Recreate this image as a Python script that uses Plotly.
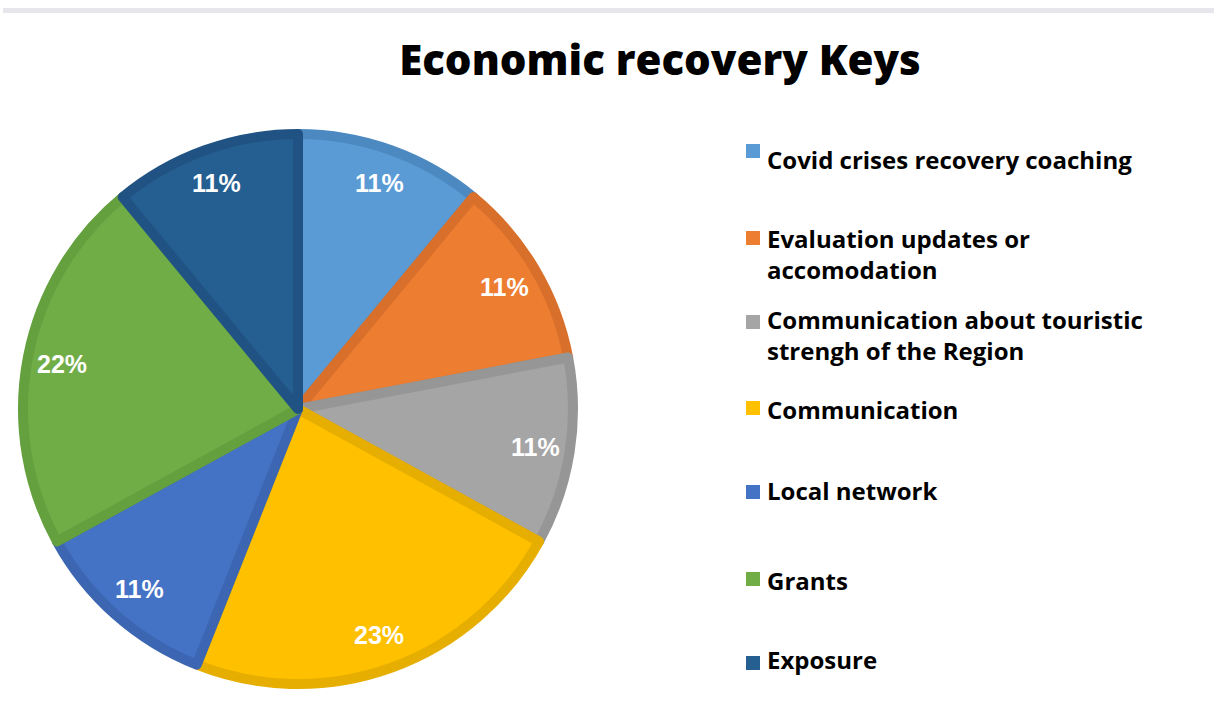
import math
import plotly.graph_objects as go

# ---- data ----
categories = [
    "Covid crises recovery coaching",
    "Evaluation updates or<br>accomodation",
    "Communication about touristic<br>strengh of the Region",
    "Communication",
    "Local network",
    "Grants",
    "Exposure",
]
values = [11, 11, 11, 23, 11, 22, 11]
title_text = "Economic recovery Keys"

# ---- styles ----
fill_colors = ["#5B9BD5", "#ED7D31", "#A5A5A5", "#FFC000", "#4472C4", "#70AD47", "#255E91"]
edge_colors = ["#4C89C0", "#D8702B", "#969696", "#E6AE00", "#3C66B1", "#65A03F", "#205384"]

W, H = 1214, 718
cx, cy_top = 298, 409          # pie centre in px (from top-left)
R_outer = 280
LINE_W = 10
R = R_outer - LINE_W / 2
cy = H - cy_top                # centre from bottom

fig = go.Figure()
fig.add_trace(go.Pie(
    labels=categories,
    values=values,
    sort=False,
    direction="clockwise",
    rotation=0,
    textinfo="none",
    hoverinfo="label+percent",
    showlegend=False,
    marker=dict(colors=fill_colors, line=dict(color=edge_colors, width=LINE_W)),
    domain=dict(x=[(cx - R) / W, (cx + R) / W], y=[(cy - R) / H, (cy + R) / H]),
))

annotations = []
shapes = []

# percentage labels placed near outer edge (Excel "inside end" style)
total = sum(values)
cum = 0
r_lab = 240
for v in values:
    mid = (cum + v / 2) / total * 2 * math.pi
    cum += v
    px = cx + r_lab * math.sin(mid)
    py = cy + r_lab * math.cos(mid)
    annotations.append(dict(
        x=px / W, y=py / H, xref="paper", yref="paper",
        text=f"{round(v / total * 100)}%", showarrow=False,
        xanchor="center", yanchor="middle",
        font=dict(family="Liberation Sans", size=25, color="white", weight="bold"),
    ))

# manual legend
leg_text_x = 765
leg_baselines = [167, 246, 327, 417, 498, 588, 667]
leg_square_cy = [151, 238, 322, 408, 492, 579, 663]
sq = 14
for lab, col, base, scy in zip(categories, fill_colors, leg_baselines, leg_square_cy):
    annotations.append(dict(
        x=leg_text_x / W, y=(H - (base - 26.5)) / H, xref="paper", yref="paper",
        text=lab, showarrow=False, align="left",
        xanchor="left", yanchor="top",
        font=dict(family="Open Sans", size=24, color="black", weight="bold"),
    ))
    shapes.append(dict(
        type="rect", xref="paper", yref="paper",
        x0=746 / W, x1=(746 + sq) / W,
        y0=(H - (scy + sq / 2)) / H, y1=(H - (scy - sq / 2)) / H,
        fillcolor=col, line=dict(width=0),
    ))

# top grey rule
shapes.append(dict(type="rect", xref="paper", yref="paper",
                   x0=3 / W, x1=1, y0=(H - 13) / H, y1=(H - 8) / H,
                   fillcolor="#E6E6EC", line=dict(width=0), layer="below"))

fig.update_layout(
    width=W, height=H,
    margin=dict(l=0, r=0, t=0, b=0),
    paper_bgcolor="white", plot_bgcolor="white",
    title=dict(text=title_text, x=660 / W, xanchor="center", y=(H - 60) / H, yanchor="middle",
               font=dict(family="Open Sans", size=42, color="black", weight=800)),
    annotations=annotations,
    shapes=shapes,
)

fig.write_html("out.html")
